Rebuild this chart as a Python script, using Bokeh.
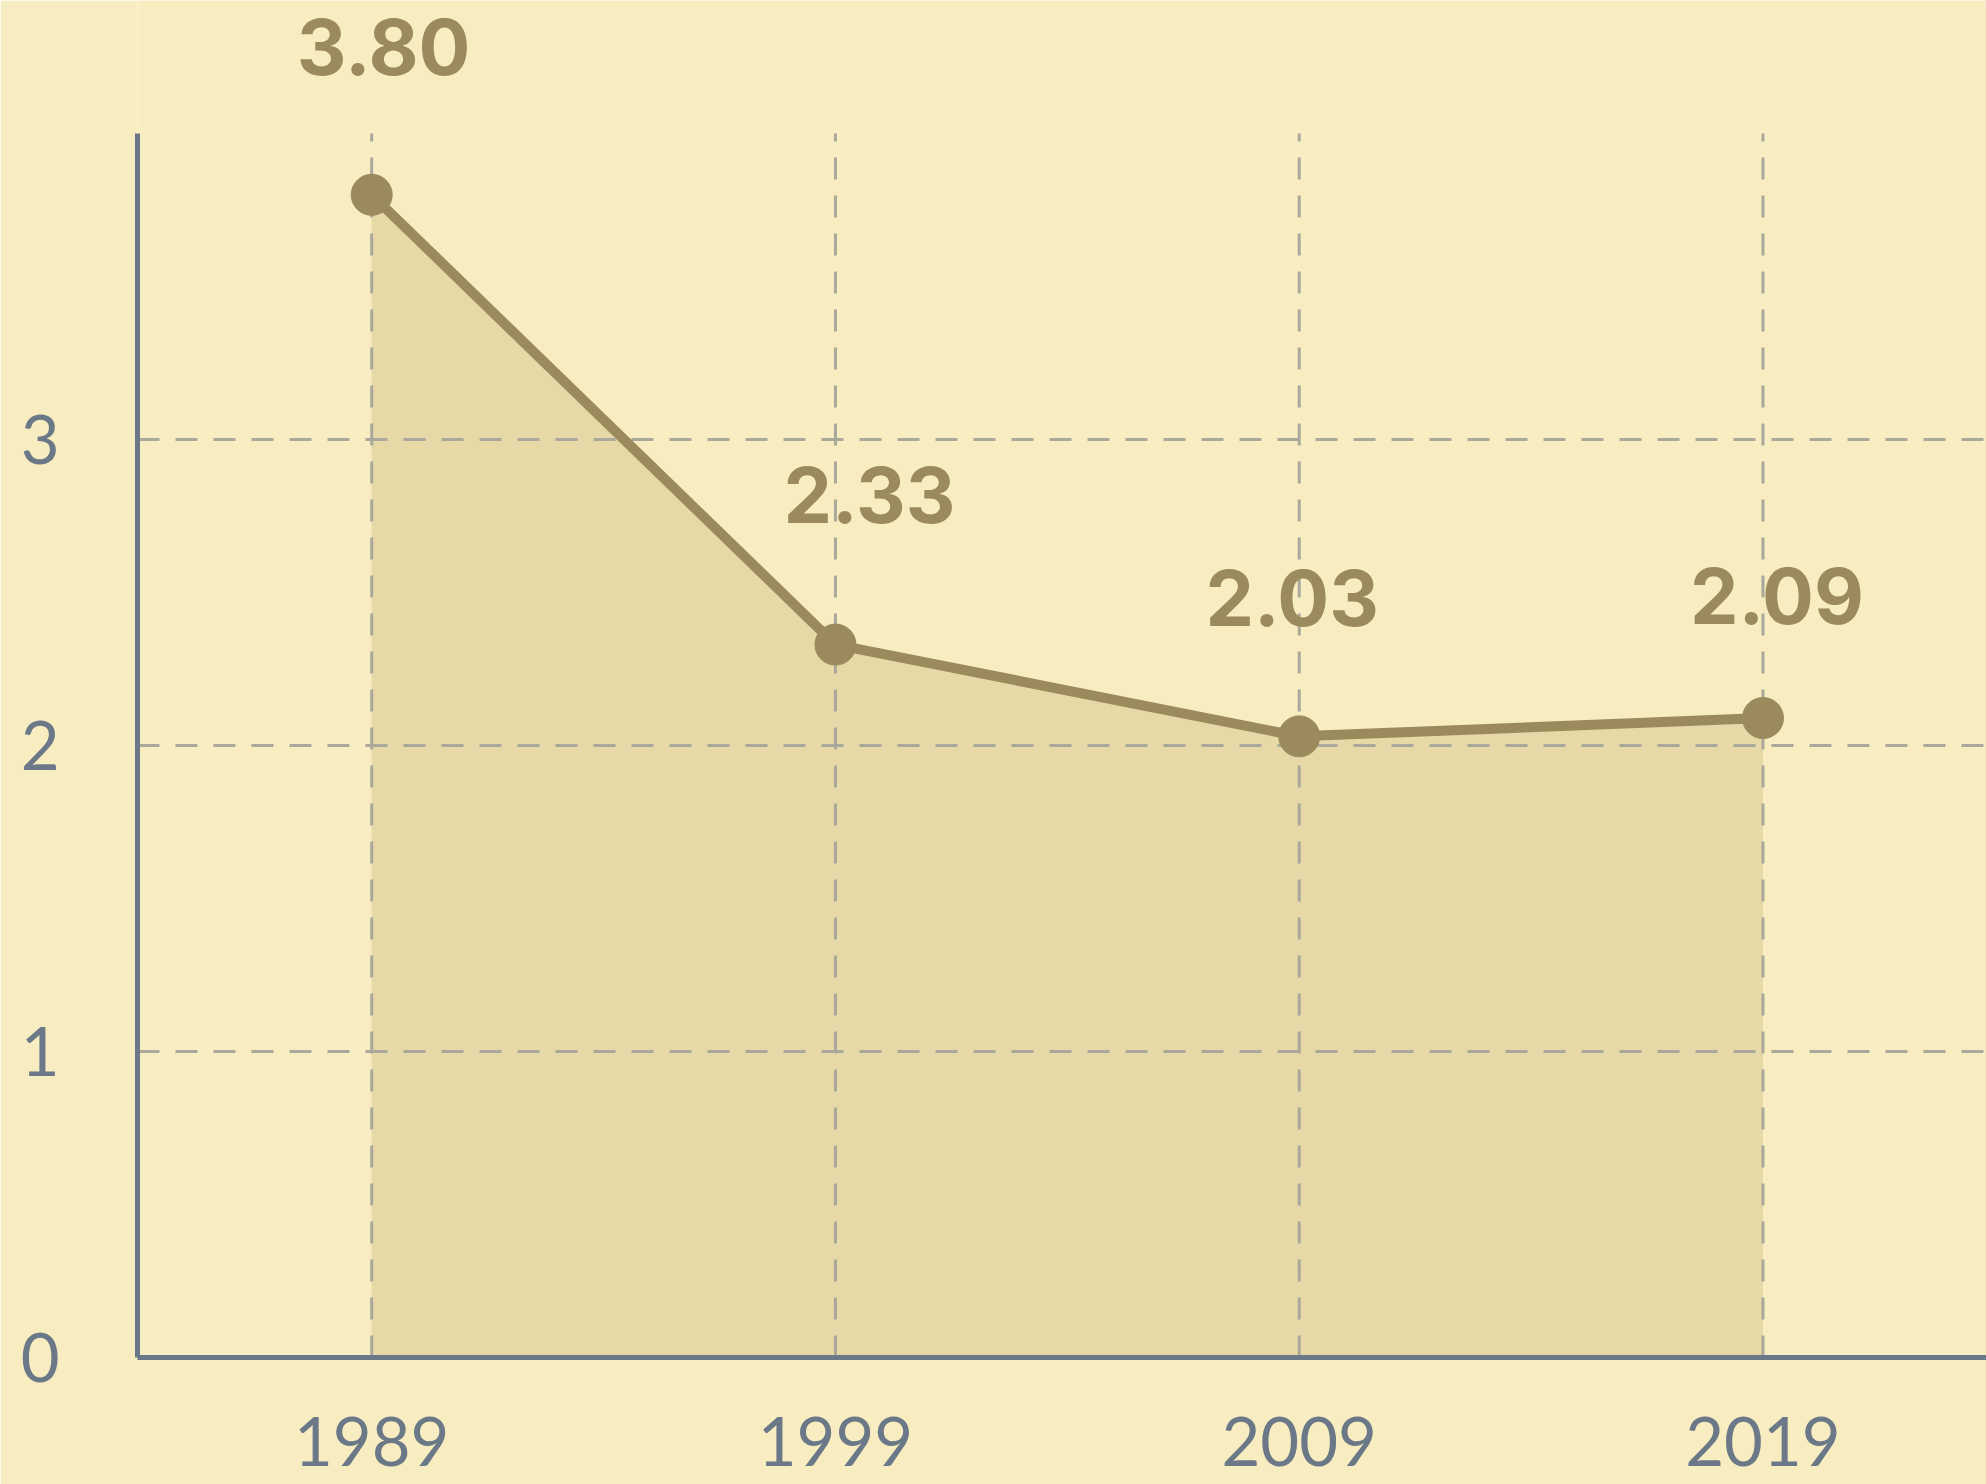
from bokeh.plotting import figure
from bokeh.models import Range1d, FixedTicker, ColumnDataSource, LabelSet
from bokeh.core.properties import value
from bokeh.embed import file_html
from bokeh.resources import INLINE

# ---- data ----
years = [1989, 1999, 2009, 2019]
rates = [3.80, 2.33, 2.03, 2.09]
labels = ["3.80", "2.33", "2.03", "2.09"]
y_ticks = [0, 1, 2, 3]
y_axis_max = 4

# ---- label placement (pixels, style only) ----
label_dx = [12, 34, -7, 14]
label_dy = [120, 122, 110, 94]

BG = "#f8edc0"
FILL = "#e6d9a7"
LINE = "#9a8a5c"
AXIS = "#6b7887"
GRID = "#a9a89a"

src = ColumnDataSource(dict(x=years, y=rates, lab=labels, dx=label_dx, dy=label_dy))
gsrc = ColumnDataSource(dict(x=years, y0=[0] * len(years), y1=[y_axis_max] * len(years)))

p = figure(width=1986, height=1484, output_backend="svg", toolbar_location=None,
           x_range=Range1d(1983.95, 2023.82), y_range=Range1d(0, 4.435),
           min_border_left=137, min_border_right=0, min_border_top=0, min_border_bottom=127,
           background_fill_color=BG, border_fill_color=BG)
p.outline_line_color = None

area = p.varea(x="x", y1=0, y2="y", source=src, fill_color=FILL)
area.level = "image"

# vertical dashed grid lines (limited to the axis extent)
p.segment(x0="x", y0="y0", x1="x", y1="y1", source=gsrc,
          line_color=GRID, line_width=3, line_dash="22 16")

p.line(x="x", y="y", source=src, line_color=LINE, line_width=10)
p.scatter(x="x", y="y", source=src, size=41, fill_color=LINE, line_color=LINE)

lbls = LabelSet(x="x", y="y", text="lab", source=src, x_offset="dx", y_offset="dy",
                text_align="center", text_baseline="alphabetic",
                text_font=value("Inter"), text_font_style="bold", text_font_size=value("77px"),
                text_color=LINE)
p.add_layout(lbls)

p.xaxis.ticker = FixedTicker(ticks=years)
p.yaxis.ticker = FixedTicker(ticks=y_ticks)
p.yaxis.bounds = (0, y_axis_max)

for ax in (p.xaxis, p.yaxis):
    ax.axis_line_color = AXIS
    ax.axis_line_width = 5
    ax.major_tick_line_color = None
    ax.minor_tick_line_color = None
    ax.major_tick_out = 0
    ax.major_tick_in = 0
    ax.major_label_text_font = "Lato"
    ax.major_label_text_font_size = "67px"
    ax.major_label_text_color = AXIS

p.xaxis.major_label_standoff = 59
p.yaxis.major_label_standoff = 78

p.xgrid.visible = False
p.ygrid.grid_line_color = GRID
p.ygrid.grid_line_width = 3
p.ygrid.grid_line_dash = "22 16"
p.ygrid.ticker = FixedTicker(ticks=[1, 2, 3])

open("out.html", "w").write(file_html(p, INLINE))
